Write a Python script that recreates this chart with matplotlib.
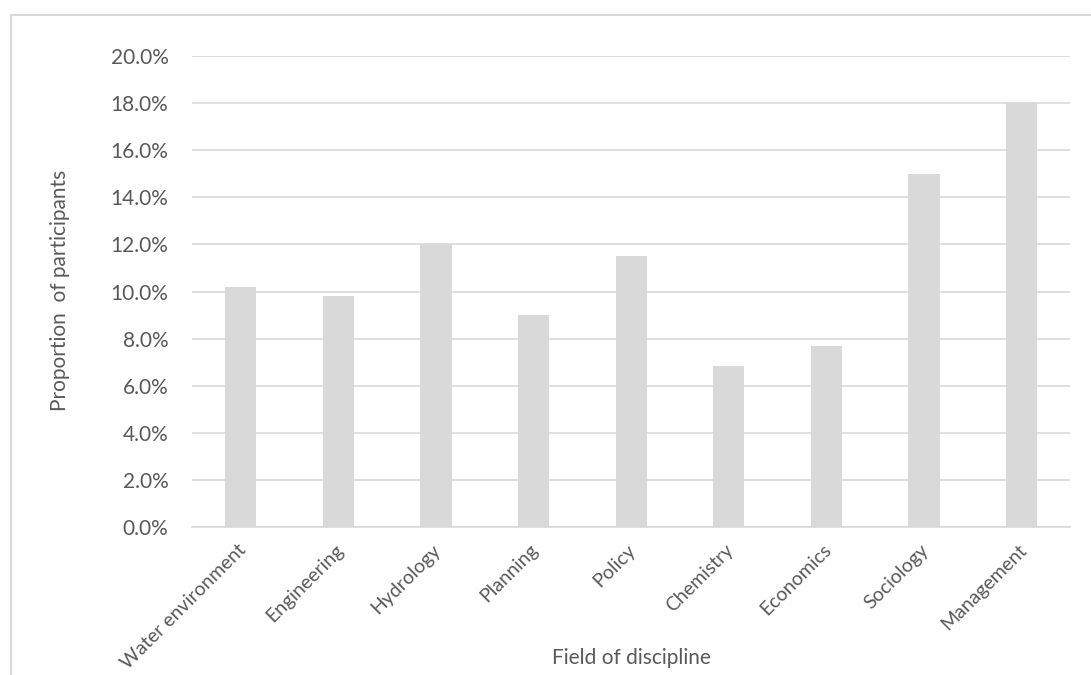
import matplotlib.pyplot as plt
from matplotlib.patches import Rectangle
from matplotlib.ticker import FuncFormatter
from matplotlib.transforms import ScaledTranslation

fields = ['Water environment', 'Engineering', 'Hydrology', 'Planning', 'Policy',
          'Chemistry', 'Economics', 'Sociology', 'Management']
shares = [10.2, 9.8, 12.0, 9.0, 11.5, 6.85, 7.7, 15.0, 18.0]

plt.rcParams['font.family'] = ['Lato', 'DejaVu Sans']
text_col = '#595959'
grid_col = '#d9d9d9'
fs = 15

fig = plt.figure(figsize=(10.91, 6.75), dpi=100)
ax = fig.add_axes([0.176, 0.219, 0.805, 0.698])
W, H = 1091, 675

# outer chart frame (runs off the right and bottom edges)
fig.patches.append(Rectangle((11 / W, -0.1), 1.2, (H - 15) / H + 0.1,
                             transform=fig.transFigure, fill=False,
                             edgecolor=grid_col, linewidth=1.5))

x = range(len(fields))
ax.bar(x, shares, width=0.32, color='#d9d9d9', zorder=3)

ax.set_xlim(-0.5, len(fields) - 0.5)
ax.set_ylim(0, 20)
ax.set_yticks(range(0, 21, 2))
ax.yaxis.set_major_formatter(FuncFormatter(lambda v, p: f'{v:.1f}%'))
ax.grid(axis='y', color=grid_col, linewidth=1.2, zorder=0)

for s in ['top', 'right', 'left']:
    ax.spines[s].set_visible(False)
ax.spines['bottom'].set_color(grid_col)
ax.spines['bottom'].set_linewidth(1.2)
ax.tick_params(length=0, colors=text_col, labelsize=fs)
ax.tick_params(axis='y', pad=17)
ax.tick_params(axis='x', pad=10, labelsize=14)

ax.set_xticks(list(x))
ax.set_xticklabels(fields, rotation=45, ha='right', rotation_mode='anchor')
shift = ScaledTranslation(-4 / 100, 0, fig.dpi_scale_trans)
for lab in ax.get_xticklabels():
    lab.set_transform(lab.get_transform() + shift)

fig.text(60 / W, 1 - 290 / H, 'Proportion  of participants', color=text_col,
         fontsize=fs, rotation=90, ha='center', va='center')
fig.text(631 / W, 1 - 658 / H, 'Field of discipline', color=text_col,
         fontsize=fs, ha='center', va='center')

fig.savefig('out.png', dpi=100)
